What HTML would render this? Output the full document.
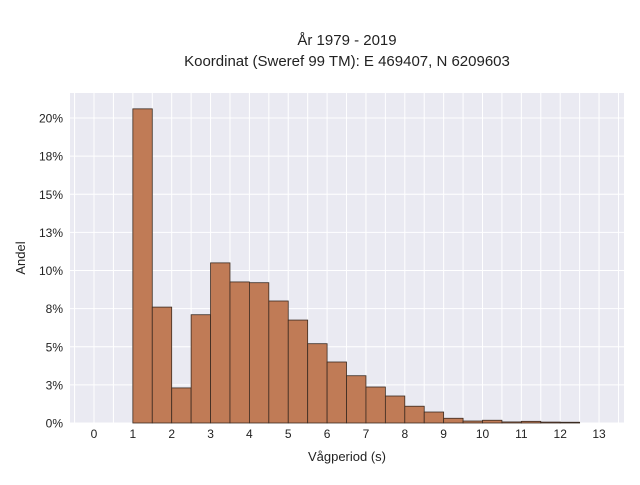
<!DOCTYPE html>
<html><head><meta charset="utf-8"><style>
body{margin:0;background:#fff;font-family:"Liberation Sans",sans-serif;}
svg text{font-family:"Liberation Sans",sans-serif;fill:#222;}
</style></head><body>
<svg id="chart" width="640" height="480">
<text x="347" y="45" text-anchor="middle" font-size="15">År 1979 - 2019</text>
<text x="347" y="66" text-anchor="middle" font-size="15">Koordinat (Sweref 99 TM): E 469407, N 6209603</text>
<rect x="70" y="93" width="554" height="330" fill="#eaeaf2"/>
<g id="grid"></g><g id="bars"></g><g id="xt"></g><g id="yt"></g>
<text x="347" y="461" text-anchor="middle" font-size="13">Vågperiod (s)</text>
<text x="0" y="0" transform="translate(25,258) rotate(-90)" text-anchor="middle" font-size="13">Andel</text>
</svg>
<script>
const binStarts=[1,1.5,2,2.5,3,3.5,4,4.5,5,5.5,6,6.5,7,7.5,8,8.5,9,9.5,10,10.5,11,11.5,12];
const shares=[20.6,7.6,2.3,7.1,10.5,9.25,9.2,8.0,6.75,5.2,4.0,3.1,2.36,1.77,1.1,0.72,0.31,0.13,0.18,0.07,0.11,0.06,0.05];
const binWidth=0.5;
const xTicks=[0,1,2,3,4,5,6,7,8,9,10,11,12,13];
const yTicks=[0,2.5,5,7.5,10,12.5,15,17.5,20];
const xs=v=>94+v*38.85, ys=v=>423-v*15.25;
const NS="http://www.w3.org/2000/svg";
function mk(p,t,a){const e=document.createElementNS(NS,t);for(const k in a)e.setAttribute(k,a[k]);document.getElementById(p).appendChild(e);return e;}
for(let g=-0.5;g<=13.5;g+=0.5){const x=xs(g);if(x<70||x>624)continue;
 const l=mk('grid','line',{x1:x,x2:x,y1:93,y2:423,stroke:'#fff','stroke-width':1});
 
 }
yTicks.forEach(v=>{const y=ys(v);
 const l=mk('grid','line',{x1:70,x2:624,y1:y,y2:y,stroke:'#fff','stroke-width':1});
 
 
 const t=mk('yt','text',{x:63,y:y+4.5,'text-anchor':'end','font-size':12});
 t.textContent=Math.round(v)+'%';
 
 });
xTicks.forEach(v=>{const t=mk('xt','text',{x:xs(v),y:438,'text-anchor':'middle','font-size':12});
 t.textContent=v;
 
 });
binStarts.forEach((b,i)=>{const x0=xs(b),x1=xs(b+binWidth),y=ys(shares[i]);
 const r=mk('bars','rect',{x:x0,y:y,width:x1-x0,height:423-y,fill:'#c07b56',stroke:'#3a2a20','stroke-width':0.8});
 
 });
</script>
</body></html>
